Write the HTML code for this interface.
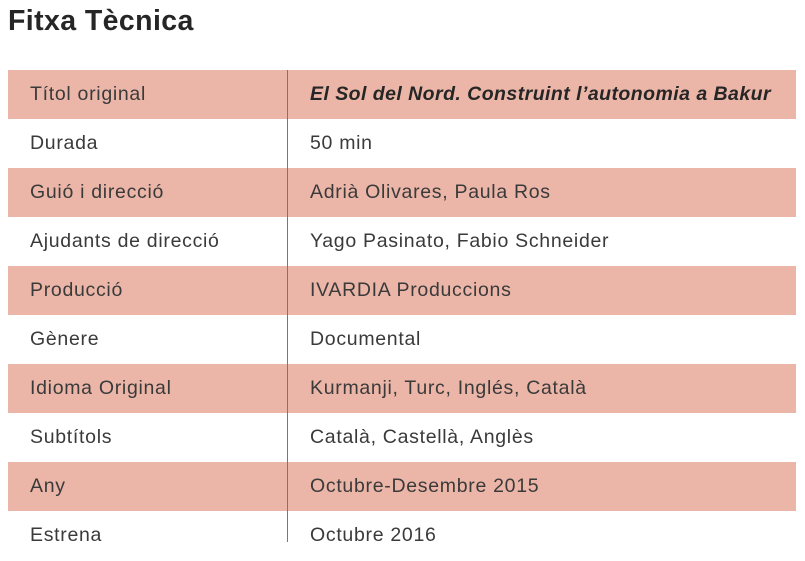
<!DOCTYPE html>
<html><head><meta charset="utf-8"><style>
body{margin:0;width:805px;height:561px;background:#fff;position:relative;overflow:hidden;font-family:"Liberation Sans",sans-serif;color:#3a3a3a}
h1{position:absolute;left:8px;top:5px;margin:0;font-size:28.5px;font-weight:bold;color:#262626;letter-spacing:0.4px}
.row{position:absolute;left:8px;width:788px;height:49px}
.row.s{background:#ebb6a8}
.c{position:absolute;top:0;line-height:49px;font-size:19.5px;letter-spacing:0.7px;white-space:nowrap}
.c1{left:22px}.c2{left:302px}
.div{position:absolute;left:287px;top:70px;width:1px;height:472px;background:#777}
</style></head><body>
<h1>Fitxa Tècnica</h1>
<div>
<div class="row s" style="top:70px"><span class="c c1">Títol original</span><span class="c c2" style="font-style:italic;font-weight:bold;color:#262626;font-size:19.5px;letter-spacing:0.45px">El Sol del Nord. Construint l’autonomia a Bakur</span></div>
<div class="row" style="top:119px"><span class="c c1">Durada</span><span class="c c2">50 min</span></div>
<div class="row s" style="top:168px"><span class="c c1">Guió i direcció</span><span class="c c2">Adrià Olivares, Paula Ros</span></div>
<div class="row" style="top:217px"><span class="c c1">Ajudants de direcció</span><span class="c c2">Yago Pasinato, Fabio Schneider</span></div>
<div class="row s" style="top:266px"><span class="c c1">Producció</span><span class="c c2">IVARDIA Produccions</span></div>
<div class="row" style="top:315px"><span class="c c1">Gènere</span><span class="c c2">Documental</span></div>
<div class="row s" style="top:364px"><span class="c c1">Idioma Original</span><span class="c c2">Kurmanji, Turc, Inglés, Català</span></div>
<div class="row" style="top:413px"><span class="c c1">Subtítols</span><span class="c c2">Català, Castellà, Anglès</span></div>
<div class="row s" style="top:462px"><span class="c c1">Any</span><span class="c c2">Octubre-Desembre 2015</span></div>
<div class="row" style="top:511px"><span class="c c1">Estrena</span><span class="c c2">Octubre 2016</span></div>
<div class="div"></div>
</div>
</body></html>
